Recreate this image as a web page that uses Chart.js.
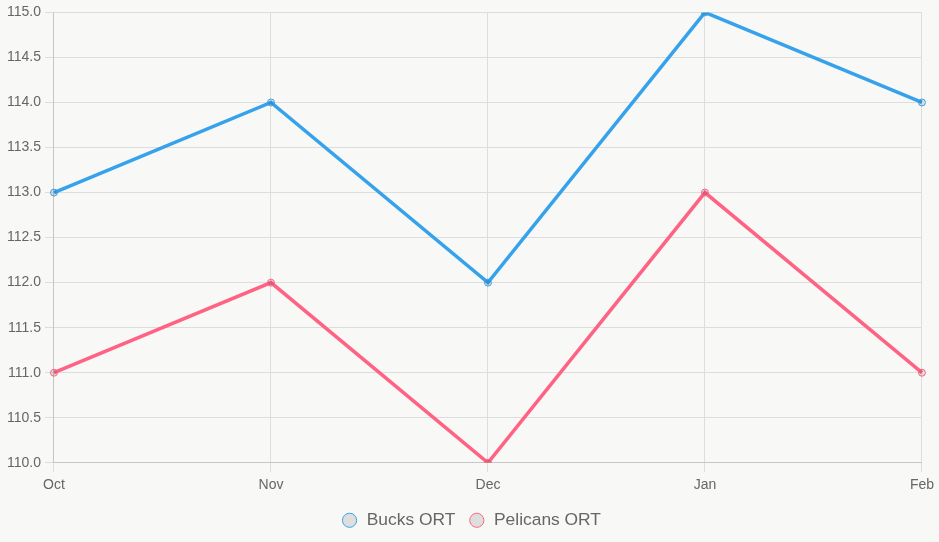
<!DOCTYPE html>
<html>
<head>
<meta charset="utf-8">
<script src="https://cdn.jsdelivr.net/npm/chart.js@4/dist/chart.umd.min.js"></script>
<style>
  html, body { margin: 0; padding: 0; background: #f8f8f6; }
  #wrap { width: 939px; height: 542px; }
</style>
</head>
<body>
<div id="wrap"><canvas id="ortChart"></canvas></div>
<script>
// Données : offensive rating par mois
const months = ['Oct', 'Nov', 'Dec', 'Jan', 'Feb'];
const bucksOrt = [113, 114, 112, 115, 114];
const pelicansOrt = [111, 112, 110, 113, 111];

Chart.defaults.font.family = "'Liberation Sans', Arial, sans-serif";
Chart.defaults.color = '#666';

new Chart(document.getElementById('ortChart'), {
    type: 'line',
    data: {
        labels: months,
        datasets: [
            {
                label: 'Bucks ORT',
                data: bucksOrt,
                borderColor: '#36A2EB',
                borderWidth: 3.5,
                pointRadius: 3.5,
                pointBorderWidth: 1,
                tension: 0
            },
            {
                label: 'Pelicans ORT',
                data: pelicansOrt,
                borderColor: '#FF6384',
                borderWidth: 3.5,
                pointRadius: 3.5,
                pointBorderWidth: 1,
                tension: 0
            }
        ]
    },
    options: {
        responsive: true,
        maintainAspectRatio: false,
        animation: false,
        layout: { padding: { left: 3, right: 0, top: 0, bottom: 3 } },
        plugins: {
            legend: {
                position: 'bottom',
                labels: { usePointStyle: true, pointStyle: 'circle', font: { size: 17.4 }, boxWidth: 17, boxHeight: 10, padding: 13 }
            },
            tooltip: { enabled: false }
        },
        scales: {
            x: {
                ticks: { font: { size: 14 }, padding: 5 },
                grid: { color: '#ddd', tickLength: 9 }
            },
            y: {
                min: 110,
                max: 115,
                ticks: { stepSize: 0.5, font: { size: 14 }, padding: 4, callback: v => v.toFixed(1) },
                grid: { color: '#ddd', tickLength: 9 }
            }
        }
    }
});
</script>
</body>
</html>
